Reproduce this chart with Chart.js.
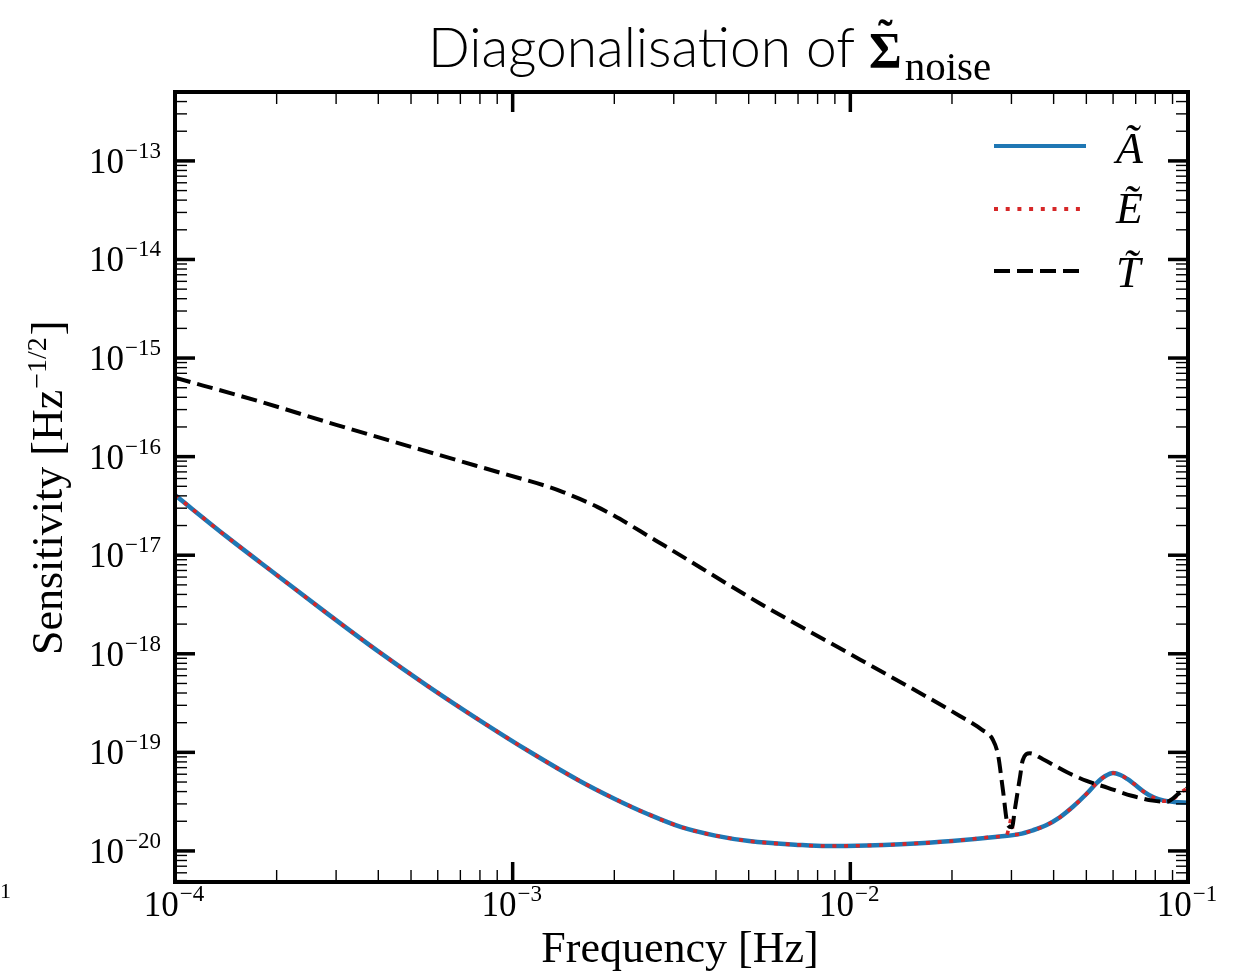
<!DOCTYPE html>
<html><head><meta charset="utf-8">
<script src="https://cdn.jsdelivr.net/npm/chart.js@4.4.1/dist/chart.umd.min.js"></script>
<style>html,body{margin:0;padding:0;background:#fff;}#wrap{width:1244px;height:974px;position:relative;}</style>
</head><body><div id="wrap"><canvas id="c" width="1244" height="974"></canvas></div>
<script>
// ---- data ----
const freqA=[1.0e-4,1.41e-4,2.0e-4,2.82e-4,3.98e-4,5.62e-4,7.94e-4,1.12e-3,1.58e-3,2.0e-3,2.51e-3,3.16e-3,3.98e-3,5.01e-3,7.08e-3,8.51e-3,1.12e-2,1.41e-2,2.0e-2,2.77e-2,3.16e-2,3.47e-2,3.80e-2,4.17e-2,4.57e-2,5.01e-2,5.37e-2,5.69e-2,6.0e-2,6.31e-2,6.61e-2,6.92e-2,7.41e-2,7.94e-2,8.51e-2,9.12e-2,1.0e-1];
const valA=[4.07e-17,1.58e-17,6.31e-18,2.57e-18,1.07e-18,4.68e-19,2.14e-19,1.02e-19,5.13e-20,3.39e-20,2.37e-20,1.74e-20,1.43e-20,1.26e-20,1.15e-20,1.12e-20,1.135e-20,1.17e-20,1.26e-20,1.40e-20,1.48e-20,1.62e-20,1.82e-20,2.19e-20,2.82e-20,3.80e-20,4.90e-20,5.75e-20,6.17e-20,5.89e-20,5.37e-20,4.79e-20,3.98e-20,3.47e-20,3.24e-20,3.13e-20,3.09e-20];
const freqE=[1.0e-4,1.41e-4,2.0e-4,2.82e-4,3.98e-4,5.62e-4,7.94e-4,1.12e-3,1.58e-3,2.0e-3,2.51e-3,3.16e-3,3.98e-3,5.01e-3,7.08e-3,8.51e-3,1.12e-2,1.41e-2,2.0e-2,2.77e-2,2.90e-2,2.95e-2,3.00e-2,3.04e-2,3.16e-2,3.47e-2,3.80e-2,4.17e-2,4.57e-2,5.01e-2,5.37e-2,5.69e-2,6.0e-2,6.31e-2,6.61e-2,6.92e-2,7.41e-2,7.94e-2,8.51e-2,9.02e-2,9.46e-2,1.0e-1];
const valE=[4.07e-17,1.58e-17,6.31e-18,2.57e-18,1.07e-18,4.68e-19,2.14e-19,1.02e-19,5.13e-20,3.39e-20,2.37e-20,1.74e-20,1.43e-20,1.26e-20,1.15e-20,1.12e-20,1.135e-20,1.17e-20,1.26e-20,1.40e-20,1.44e-20,1.72e-20,2.15e-20,1.47e-20,1.48e-20,1.62e-20,1.82e-20,2.19e-20,2.82e-20,3.80e-20,4.90e-20,5.75e-20,6.17e-20,5.89e-20,5.37e-20,4.79e-20,3.98e-20,3.45e-20,3.20e-20,3.35e-20,3.85e-20,4.37e-20];
const freqT=[1.0e-4,1.78e-4,3.02e-4,5.62e-4,9.33e-4,1.26e-3,1.41e-3,1.58e-3,1.78e-3,2.0e-3,2.24e-3,2.51e-3,2.82e-3,5.40e-3,1.07e-2,2.11e-2,2.45e-2,2.64e-2,2.74e-2,2.83e-2,2.93e-2,3.01e-2,3.07e-2,3.18e-2,3.24e-2,3.40e-2,3.72e-2,4.37e-2,5.01e-2,5.79e-2,6.81e-2,7.87e-2,8.65e-2,9.46e-2,1.0e-1];
const valT=[6.31e-16,3.63e-16,2.09e-16,1.12e-16,6.76e-17,5.01e-17,4.37e-17,3.72e-17,3.09e-17,2.51e-17,2.0e-17,1.58e-17,1.245e-17,3.24e-18,8.71e-19,2.34e-19,1.70e-19,1.35e-19,9.3e-20,4.17e-20,1.82e-20,1.74e-20,2.63e-20,5.62e-20,8.32e-20,9.77e-20,8.51e-20,6.31e-20,5.13e-20,4.37e-20,3.63e-20,3.24e-20,3.16e-20,3.89e-20,4.37e-20];
const xTickExponents=[-4,-3,-2,-1];
const yTickExponents=[-20,-19,-18,-17,-16,-15,-14,-13];
const seriesLabels=['Ã','Ẽ','T̃'];
const titleMain='Diagonalisation of';
const titleSymbol='Σ';
const titleSub='noise';
const xAxisTitle='Frequency [Hz]';
const yAxisTitle='Sensitivity [Hz';
const yAxisTitleExp='−1/2';
const strayText='1';

const xMin=1e-4, xMax=1e-1, yMin=4.84e-21, yMax=5.0e-13;

function pts(f,v){return f.map((x,i)=>({x:x,y:v[i]}));}
const serif='"Liberation Serif","Times New Roman",serif';
const cBlue='#1f77b4', cRed='#d62728', cBlack='#000000';

function line(ctx,x1,y1,x2,y2,w){ctx.lineWidth=w;ctx.beginPath();ctx.moveTo(x1,y1);ctx.lineTo(x2,y2);ctx.stroke();}

const frame={id:'frame',afterDraw(chart){
  const ctx=chart.ctx,a=chart.chartArea,xs=chart.scales.x,ys=chart.scales.y;
  ctx.save();
  ctx.strokeStyle='#000';ctx.fillStyle='#000';ctx.lineCap='butt';ctx.setLineDash([]);
  const MAJ=20,MIN=12,MAJW=3.5,MINW=1.4;
  for(let e=-5;e<=0;e++){for(let m=1;m<=9;m++){const v=m*Math.pow(10,e);
    if(v<xs.min*0.999||v>xs.max*1.001)continue;const p=xs.getPixelForValue(v);
    const L=m===1?MAJ:MIN,W=m===1?MAJW:MINW;
    line(ctx,p,a.bottom,p,a.bottom-L,W);line(ctx,p,a.top,p,a.top+L,W);}}
  for(let e=-22;e<=-12;e++){for(let m=1;m<=9;m++){const v=m*Math.pow(10,e);
    if(v<ys.min*0.999||v>ys.max*1.001)continue;const p=ys.getPixelForValue(v);
    const L=m===1?MAJ:MIN,W=m===1?MAJW:MINW;
    line(ctx,a.left,p,a.left+L,p,W);line(ctx,a.right,p,a.right-L,p,W);}}
  ctx.lineWidth=4;ctx.strokeRect(a.left,a.top,a.right-a.left,a.bottom-a.top);
  // tick labels
  const fb='35px '+serif, fe='23px '+serif;
  ctx.textBaseline='alphabetic';ctx.textAlign='left';
  xTickExponents.forEach(e=>{const p=xs.getPixelForValue(Math.pow(10,e));
    ctx.font=fb;const wb=ctx.measureText('10').width;ctx.font=fe;const ex='−'+Math.abs(e);const we=ctx.measureText(ex).width+3;
    const s=p-(wb+we)/2;ctx.font=fb;ctx.fillText('10',s,916);ctx.font=fe;ctx.fillText(ex,s+wb+1,901);});
  yTickExponents.forEach(e=>{const p=ys.getPixelForValue(Math.pow(10,e));
    ctx.font=fb;const wb=ctx.measureText('10').width;ctx.font=fe;const ex='−'+Math.abs(e);const we=ctx.measureText(ex).width+3;
    const s=163-(wb+we);ctx.font=fb;ctx.fillText('10',s,p+12);ctx.font=fe;ctx.fillText(ex,s+wb+1,p-3);});
  ctx.font='22px '+serif;ctx.fillText(strayText,0,898);
  // axis titles
  ctx.font='44px '+serif;ctx.textAlign='center';ctx.fillText(xAxisTitle,680,962);
  ctx.save();ctx.translate(62,655);ctx.rotate(-Math.PI/2);ctx.textAlign='left';
  ctx.font='44px '+serif;const w1=ctx.measureText(yAxisTitle).width;ctx.fillText(yAxisTitle,0,0);
  ctx.font='28px '+serif;const w2=ctx.measureText(yAxisTitleExp).width;ctx.fillText(yAxisTitleExp,w1+1,-16);
  ctx.font='44px '+serif;ctx.fillText(']',w1+w2+3,0);ctx.restore();
  // title
  ctx.textAlign='left';ctx.font='300 48px Lato, "Open Sans", sans-serif';
  let tw=ctx.measureText(titleMain).width;const fs=48*427/tw;
  ctx.font='300 '+fs.toFixed(1)+'px Lato, "Open Sans", sans-serif';ctx.fillText(titleMain,428,67);
  ctx.font='bold 50px '+serif;const sw=ctx.measureText(titleSymbol).width;ctx.fillText(titleSymbol,869,67);
  ctx.font='bold 44px '+serif;ctx.textAlign='center';ctx.fillText('˜',869+sw/2,50);
  ctx.textAlign='left';ctx.font='41px '+serif;ctx.fillText(titleSub,869+sw+3,80);
  // legend
  const L=[{y:146,c:cBlue,d:[],w:4},{y:209,c:cRed,d:[4,7.7],w:4},{y:271,c:cBlack,d:[16,7],w:4}];
  const by=[163,223,287];
  L.forEach((it,i)=>{ctx.strokeStyle=it.c;ctx.setLineDash(it.d);line(ctx,994,it.y,1086,it.y,it.w);
    ctx.setLineDash([]);ctx.fillStyle='#000';ctx.font='italic 44px '+serif;ctx.fillText(seriesLabels[i],1116,by[i]);});
  ctx.restore();
}};

new Chart(document.getElementById('c'),{
  type:'line',
  data:{datasets:[
    {label:seriesLabels[0],data:pts(freqA,valA),borderColor:cBlue,borderWidth:4.5,pointRadius:0,cubicInterpolationMode:'monotone',order:3},
    {label:seriesLabels[1],data:pts(freqE,valE),borderColor:cRed,borderWidth:3.6,borderDash:[4,7.7],pointRadius:0,cubicInterpolationMode:'monotone',order:2},
    {label:seriesLabels[2],data:pts(freqT,valT),borderColor:cBlack,borderWidth:4,borderDash:[16,7],pointRadius:0,cubicInterpolationMode:'monotone',order:1}
  ]},
  options:{
    responsive:false,animation:false,devicePixelRatio:1,
    layout:{padding:{left:175,right:56,top:92,bottom:92}},
    plugins:{legend:{display:false},title:{display:false},tooltip:{enabled:false}},
    scales:{
      x:{type:'logarithmic',min:xMin,max:xMax,display:false},
      y:{type:'logarithmic',min:yMin,max:yMax,display:false}
    }
  },
  plugins:[frame]
});
</script></body></html>
